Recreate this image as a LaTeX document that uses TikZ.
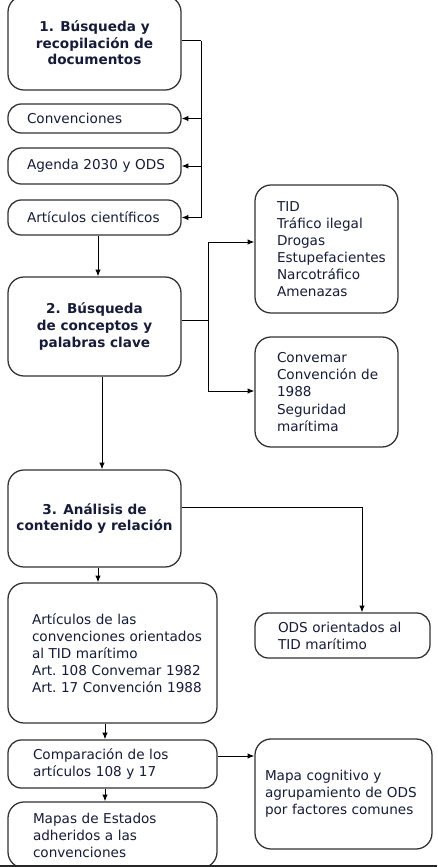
\documentclass[tikz,border=0pt]{standalone}
\usepackage{fontspec}
\setmainfont{DejaVu Sans}
\usetikzlibrary{arrows.meta}
\definecolor{txt}{RGB}{22,28,56}
\definecolor{edge}{RGB}{50,50,50}
\begin{document}
\hyphenpenalty=10000 \exhyphenpenalty=10000 \hbadness=10000 \hfuzz=100pt
\begin{tikzpicture}[x=0.75pt,y=-0.75pt,
  base/.style={draw=edge, line width=0.95pt, fill=white, text=txt, inner sep=0pt,
    font=\fontsize{10.2}{12.8}\selectfont},
  big/.style={base, rounded corners=12pt},
  pill/.style={base, rounded corners=10pt},
  sz/.style 2 args={minimum width=#1*0.75pt, minimum height=#2*0.75pt},
  ttl/.style={align=center, font=\fontsize{10.2}{12.4}\selectfont\bfseries},
  lft/.style={align=left, text width=#1},
  ln/.style={draw=black, line width=0.75pt},
  arr/.style={ln, -{Latex[length=5pt,width=4pt]}}
]
\useasboundingbox (0,0) rectangle (437,867);
\clip (0,0) rectangle (437,867);
\fill[white] (0,0) rectangle (437,867);

% helper coordinates
\coordinate (x98) at (98,0);
\coordinate (x102) at (102,0);
\coordinate (x105) at (105,0);

% boxes
\node[big, sz={173}{94}, ttl] (b1) at (94.5,43) {1. Búsqueda y\\recopilación de\\documentos};
\node[pill, sz={173}{29}, lft=101.25pt] (conv) at (94.5,118.5) {Convenciones};
\node[pill, sz={173}{36}, lft=101.25pt] (agen) at (94.5,166) {Agenda~2030~y~ODS};
\node[pill, sz={173}{35}, lft=101.25pt] (artc) at (94.5,217.5) {Artículos~científicos};

\node[big, sz={173}{99}, ttl] (b2) at (94.5,326.5) {2. Búsqueda\\de conceptos y\\palabras clave};
\node[big, sz={143}{128}, lft=74.25pt] (tid) at (326.5,249) {TID\\Tráfico~ilegal\\Drogas\\Estupefacientes\\Narcotráfico\\Amenazas};
\node[big, sz={143}{110}, lft=74.25pt] (cvm) at (326.5,392) {Convemar\\Convención~de\\1988\\Seguridad\\marítima};

\node[big, sz={173}{97}, ttl] (b3) at (94.5,518.5) {3. Análisis de\\contenido y relación};
\node[pill, sz={175}{45}, lft=96.75pt] (ods) at (342.5,635.5) {ODS~orientados~al\\TID~marítimo};
\node[big, sz={209}{140}, lft=120.75pt] (arts) at (112.5,653) {Artículos~de~las\\convenciones~orientados\\al~TID~marítimo\\Art.~108~Convemar~1982\\Art.~17~Convención~1988};
\node[pill, sz={209}{48}, lft=119.25pt] (comp) at (112.5,764) {Comparación~de~los\\artículos~108~y~17};
\node[big, sz={177}{110}, lft=117.75pt] (mapa) at (343.5,794) {Mapa~cognitivo~y\\agrupamiento~de~ODS\\por~factores~comunes};
\node[big, sz={209}{66}, lft=119.25pt] (mest) at (112.5,835) {Mapas~de~Estados\\adheridos~a~las\\convenciones};

% connectors, stage 1
\coordinate (j1) at (201,41);
\draw[ln] (b1.east |- j1) -- (j1);
\draw[arr] (j1) |- (artc.east);
\draw[arr] (j1 |- conv.east) -- (conv.east);
\draw[arr] (j1 |- agen.east) -- (agen.east);
\draw[arr] (artc.south -| x98) -- (b2.north -| x98);

% stage 2
\coordinate (j2) at (208,320);
\coordinate (j2t) at (208,242);
\coordinate (j2b) at (208,391);
\draw[ln] (b2.east |- j2) -- (j2);
\draw[arr] (j2) -- (j2t) -- (j2t -| tid.west);
\draw[arr] (j2) -- (j2b) -- (j2b -| cvm.west);
\draw[arr] (b2.south -| x102) -- (b3.north -| x102);

% stage 3
\coordinate (j3) at (362,507);
\draw[arr] (b3.east |- j3) -| (ods.north -| j3);
\draw[arr] (b3.south -| x98) -- (arts.north -| x98);
\draw[arr] (arts.south -| x105) -- (comp.north -| x105);
\coordinate (y756) at (0,756);
\draw[arr] (comp.east |- y756) -- (mapa.west |- y756);
\draw[arr] (comp.south -| x105) -- (mest.north -| x105);

% bottom rule
\coordinate (bl) at (0,866);
\coordinate (br) at (437,866);
\draw[line width=1.6pt, draw=black!85] (bl) -- (br);
\end{tikzpicture}
\end{document}
